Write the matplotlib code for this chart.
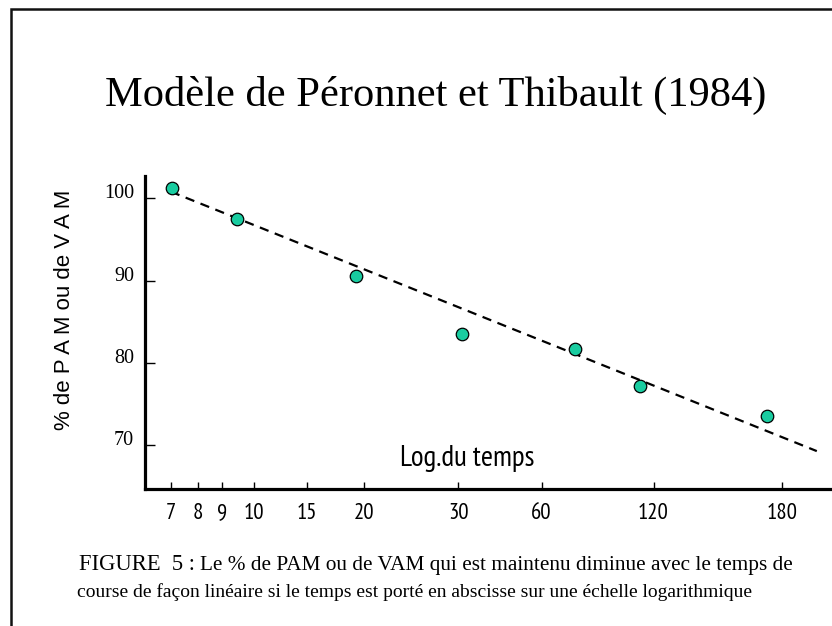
import numpy as np
import matplotlib
matplotlib.use("Agg")
import matplotlib.pyplot as plt
from matplotlib.patches import Rectangle
from matplotlib import font_manager
from matplotlib.font_manager import FontProperties

# ---- data ----
tick_values = [7, 8, 9, 10, 15, 20, 30, 60, 120, 180]
tick_labels = ["7", "8", "9", "10", "15", "20", "30", "60", "120", "180"]
y_ticks = [70, 80, 90, 100]
times = [7.05, 9.45, 19.3, 31.5, 78.0, 113.0, 173.0]
pct = [101.2, 97.5, 90.6, 83.5, 81.7, 77.2, 73.6]
fit_times = [7.0, 196.0]
fit_pct = [100.8, 69.3]

title = "Modèle de Péronnet et Thibault (1984)"
ylabel = "% de P A M ou de V A M"
xlabel = "Log.du temps"
cap_head = "FIGURE  5 :"
cap_line1 = "Le % de PAM ou de VAM qui est maintenu diminue avec le temps de"
cap_line2 = "course de façon linéaire si le temps est porté en abscisse sur une échelle logarithmique"

# hand-drawn axis: knot positions of the printed ticks (layout)
tick_pos = np.array([171, 198, 223, 255, 308, 366, 461, 545, 658, 788], float)
kt = np.array(tick_values, float)


def _extrap(x, xs, ys):
    x = np.asarray(x, float)
    out = np.interp(x, xs, ys)
    lo_s = (ys[1] - ys[0]) / (xs[1] - xs[0])
    hi_s = (ys[-1] - ys[-2]) / (xs[-1] - xs[-2])
    out = np.where(x < xs[0], ys[0] + (x - xs[0]) * lo_s, out)
    out = np.where(x > xs[-1], ys[-1] + (x - xs[-1]) * hi_s, out)
    return out


def fwd(t):
    return _extrap(t, kt, tick_pos)


def inv(p):
    return _extrap(p, tick_pos, kt)


# find a narrow sans font if available
narrow_path = None
for f in font_manager.fontManager.ttflist:
    nm = f.name.lower()
    fn = f.fname.lower()
    if f.style == "normal" and f.weight in (400, "normal", "regular"):
        if ("narrow" in nm or "narrow" in fn) and "sans" in nm:
            narrow_path = f.fname
            break
if narrow_path is None:
    for f in font_manager.fontManager.ttflist:
        fn = f.fname.lower()
        if "dejavusanscondensed.ttf" in fn or "robotocondensed-regular" in fn:
            narrow_path = f.fname
            break


def narrow_fp(size):
    if narrow_path:
        return FontProperties(fname=narrow_path, size=size)
    return FontProperties(family="Liberation Sans", size=size * 0.9)


serif = "Liberation Serif"
sans = "Liberation Sans"

W, H = 832, 626
fig = plt.figure(figsize=(W / 100, H / 100), dpi=100)
fig.patch.set_facecolor("white")

# outer frame
fig.add_artist(Rectangle((11 / W, -0.05), 1.2, 1 - 9 / H + 0.05, transform=fig.transFigure,
                         fill=False, edgecolor="#111111", linewidth=1.8))

L, R, B, T = 145, 832, 489, 176
ax = fig.add_axes([L / W, 1 - B / H, (R - L) / W, (B - T) / H])
ax.set_xscale("function", functions=(fwd, inv))
ax.set_xlim(float(inv(L)), float(inv(R + 6)))
ax.set_ylim(64.7, 102.7)

ax.plot(fit_times, fit_pct, color="black", linewidth=1.6, linestyle=(0, (4.2, 3.0)), zorder=2)
ax.plot(times, pct, linestyle="none", marker="o", markersize=9, markerfacecolor="#19CCA0",
        markeredgecolor="black", markeredgewidth=0.9, zorder=3)

for s in ["top", "right"]:
    ax.spines[s].set_visible(False)
for s in ["left", "bottom"]:
    ax.spines[s].set_linewidth(2.3)
    ax.spines[s].set_color("black")

ax.set_xticks(tick_values)
ax.set_xticklabels(tick_labels)
for lab in ax.get_xticklabels():
    lab.set_fontproperties(narrow_fp(16.5))
ax.xaxis.set_minor_locator(matplotlib.ticker.NullLocator())
ax.tick_params(axis="x", direction="in", length=5, width=1, pad=10)

ax.set_yticks(y_ticks)
ax.set_yticklabels([str(v) for v in y_ticks], fontfamily=serif, fontsize=14.5, va="baseline")
ax.tick_params(axis="y", direction="in", length=7, width=1, pad=8)

fig.text(436 / W, 1 - 106 / H, title, fontfamily=serif, fontsize=30.6, ha="center", va="baseline")
fig.text(65 / W, 1 - 310 / H, ylabel, fontfamily=sans, fontsize=16, rotation=90, ha="center", va="center")
fig.text(467 / W, 1 - 458 / H, xlabel, fontproperties=narrow_fp(21), ha="center", va="center")

t1 = fig.text(79 / W, 1 - 570 / H, cap_head, fontfamily=serif, fontsize=16.3, ha="left", va="baseline")
fig.canvas.draw()
bb = t1.get_window_extent()
fig.text((bb.x1 + 5) / W, 1 - 570 / H, cap_line1, fontfamily=serif, fontsize=15.3,
         ha="left", va="baseline")
fig.text(77 / W, 1 - 597 / H, cap_line2, fontfamily=serif, fontsize=14, ha="left", va="baseline")

fig.savefig("out.png", dpi=100, facecolor="white")
